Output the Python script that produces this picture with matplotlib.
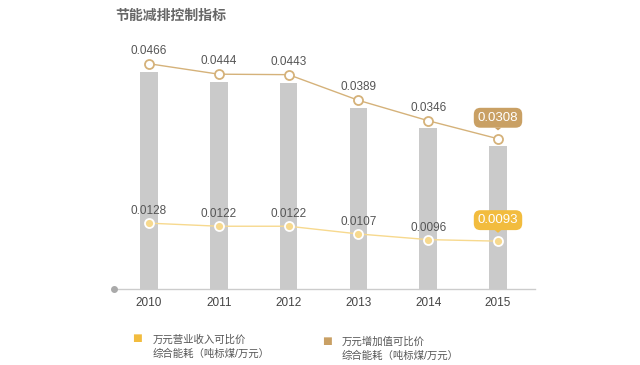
import matplotlib
matplotlib.use("Agg")
import matplotlib.pyplot as plt

plt.rcParams['font.family'] = ['Liberation Sans', 'Noto Sans CJK SC', 'DejaVu Sans']

years = ['2010', '2011', '2012', '2013', '2014', '2015']
added_value = [0.0466, 0.0444, 0.0443, 0.0389, 0.0346, 0.0308]   # 万元增加值可比价综合能耗
revenue = [0.0128, 0.0122, 0.0122, 0.0107, 0.0096, 0.0093]       # 万元营业收入可比价综合能耗
labels_rev = '万元营业收入可比价\n综合能耗（吨标煤/万元）'
labels_add = '万元增加值可比价\n综合能耗（吨标煤/万元）'
title = '节能减排控制指标'

W, H = 640, 365
fig = plt.figure(figsize=(W / 100, H / 100), dpi=100)
L, R, B, T = 113, 535, 289, 40
ax = fig.add_axes([L / W, 1 - B / H, (R - L) / W, (B - T) / H])
x = list(range(len(years)))

bar_c = '#cacaca'
up_c = '#d5b27a'
up_box = '#c9a064'
lo_c = '#f7d98e'
lo_box = '#f2bc3e'
txt_c = '#555555'

ax.bar(x, added_value, width=0.25, color=bar_c, zorder=1)
ax.set_xlim(-0.516, 5.53)
ax.set_ylim(0, 0.0535)

ax2 = ax.twinx()
ax2.set_ylim(-0.00084, 0.0516)
ax2.plot(x, added_value, color=up_c, lw=1, marker='o', ms=6.5, mfc='white', mec=up_c, mew=1.3, zorder=3)

ax3 = ax.twinx()
ax3.set_ylim(0, 0.0484)
ax3.plot(x, revenue, color=lo_c, lw=1, marker='o', ms=6.5, mfc=lo_c, mec='white', mew=1.3, zorder=3)

for a in (ax, ax2, ax3):
    for s in a.spines.values():
        s.set_visible(False)
    a.set_yticks([])
    a.tick_params(length=0)

ax.set_xticks(x)
ax.set_xticklabels(years, fontsize=8.5, color='#444444')
ax.tick_params(axis='x', pad=6)

# baseline with dot
ax.axhline(0, color='#cccccc', lw=1, zorder=0, clip_on=False)
ax.plot([-0.5], [0], marker='o', ms=4, color='#aaaaaa', clip_on=False, zorder=2)

def label_series(axis, vals, box_color, offset):
    for i, v in enumerate(vals):
        if i == len(vals) - 1:
            axis.annotate(f'{v:.4f}', xy=(i, v), xytext=(0, 21), textcoords='offset pixels',
                          ha='center', va='center', fontsize=9.5, color='white',
                          bbox=dict(boxstyle='round,pad=0.3,rounding_size=0.5', fc=box_color, ec='none'),
                          arrowprops=dict(arrowstyle='wedge,tail_width=0.5,shrink_factor=0.5',
                                          fc=box_color, ec='none', shrinkA=0, shrinkB=6))
        else:
            axis.annotate(f'{v:.4f}', xy=(i, v), xytext=(0, offset), textcoords='offset pixels',
                          ha='center', va='center', fontsize=8.5, color=txt_c)

label_series(ax2, added_value, up_box, 13)
label_series(ax3, revenue, lo_box, 12)

fig.text(115 / W, 1 - 16 / H, title, fontsize=10, color='#666666', fontweight='bold', va='center', ha='left')

# legend
fig.text(137 / W, 1 - 338 / H, '■', fontsize=7.5, color=lo_box, ha='center', va='center', family=['DejaVu Sans'])
fig.text(153 / W, 1 - 346.5 / H, labels_rev, fontsize=7.5, color='#555555', ha='left', va='center', linespacing=1.4)
fig.text(327 / W, 1 - 341 / H, '■', fontsize=7.5, color=up_box, ha='center', va='center', family=['DejaVu Sans'])
fig.text(342 / W, 1 - 348.5 / H, labels_add, fontsize=7.5, color='#555555', ha='left', va='center', linespacing=1.4)

fig.savefig('out.png', dpi=100)
